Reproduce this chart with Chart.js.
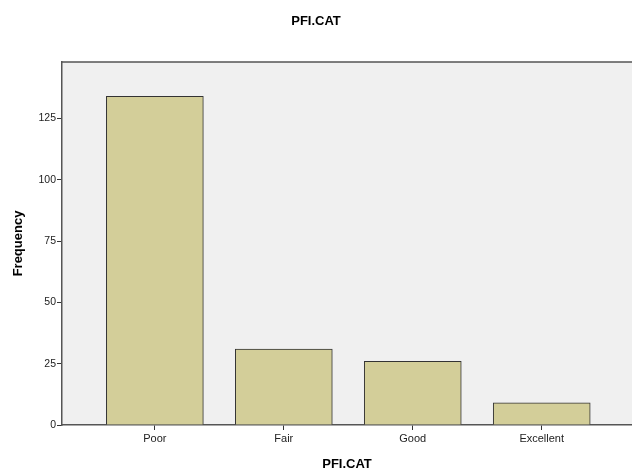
<!doctype html>
<html>
<head>
	<title>PFI.CAT</title>
	<script src="https://cdn.jsdelivr.net/npm/chart.js@4/dist/chart.umd.min.js"></script>
	<style>
		body { margin: 0; background: #fff; }
		#wrap { width: 632px; height: 472px; }
	</style>
</head>
<body>
	<div id="wrap"><canvas id="canvas" width="632" height="472"></canvas></div>
	<script>
		var categories = ['Poor', 'Fair', 'Good', 'Excellent'];
		var frequency = [134, 31, 26, 9];
		var yTicks = [0, 25, 50, 75, 100, 125];

		var font = 'Arial, "Liberation Sans", sans-serif';

		// plot background + top border of the frame
		var frame = {
			id: 'frame',
			beforeDraw: function(chart) {
				var a = chart.chartArea, ctx = chart.ctx;
				ctx.save();
				ctx.fillStyle = '#f0f0f0';
				ctx.fillRect(a.left, a.top, a.right - a.left, a.bottom - a.top);
				ctx.strokeStyle = '#555';
				ctx.lineWidth = 1.5;
				ctx.beginPath();
				ctx.moveTo(a.left, a.top);
				ctx.lineTo(a.right, a.top);
				ctx.stroke();
				ctx.restore();
			}
		};

		window.onload = function() {
			var ctx = document.getElementById('canvas').getContext('2d');
			window.myChart = new Chart(ctx, {
				type: 'bar',
				data: {
					datasets: [{
						label: 'Frequency',
						data: frequency.map(function(v, i) { return {x: i, y: v}; }),
						backgroundColor: '#d3ce99',
						borderColor: '#333',
						borderWidth: 1,
						barThickness: 97
					}]
				},
				plugins: [frame],
				options: {
					responsive: false,
					animation: false,
					layout: { padding: 0 },
					plugins: {
						legend: { display: false },
						tooltip: { enabled: false },
						title: {
							display: true,
							text: 'PFI.CAT',
							color: '#000',
							font: { family: font, size: 13, weight: 'bold' },
							padding: { top: 14, bottom: 32.4 }
						}
					},
					scales: {
						x: {
							type: 'linear',
							offset: false,
							min: -0.72,
							max: 3.70,
							afterBuildTicks: function(s) {
								s.ticks = categories.map(function(c, i) { return {value: i}; });
							},
							afterFit: function(s) { s.height = 47; },
							ticks: {
								callback: function(v) { return categories[v]; },
								color: '#222',
								font: { family: font, size: 11 },
								padding: 2,
								maxRotation: 0,
								autoSkip: false
							},
							grid: { offset: false, drawOnChartArea: false, tickLength: 5, color: '#333', tickWidth: 1 },
							border: { color: '#555', width: 1.5 },
							title: {
								display: true,
								text: 'PFI.CAT',
								color: '#000',
								font: { family: font, size: 13, weight: 'bold' },
								padding: { top: 6, bottom: 0 }
							}
						},
						y: {
							min: 0,
							max: 148,
							afterBuildTicks: function(s) {
								s.ticks = yTicks.map(function(v) { return {value: v}; });
							},
							afterFit: function(s) { s.width = 62; },
							ticks: {
								color: '#222',
								font: { family: font, size: 10.5 },
								padding: 1
							},
							grid: { drawOnChartArea: false, tickLength: 5, color: '#333', tickWidth: 1 },
							border: { color: '#555', width: 1.5 },
							title: {
								display: true,
								text: 'Frequency',
								color: '#000',
								font: { family: font, size: 13, weight: 'bold' },
								padding: { top: 11, bottom: 4 }
							}
						}
					}
				}
			});
		};
	</script>
</body>
</html>
